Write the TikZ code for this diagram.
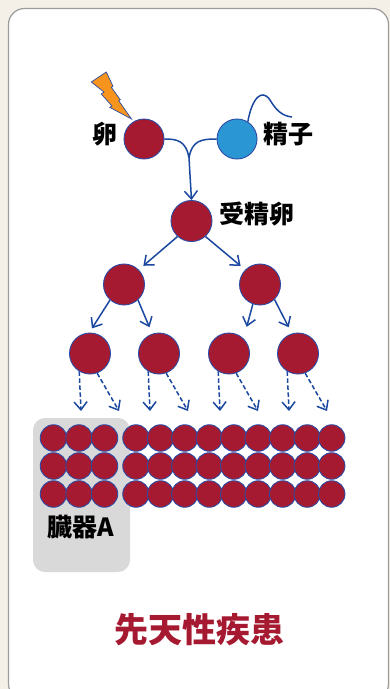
\documentclass[tikz,border=0pt]{standalone}
\usepackage{fontspec}
\newfontfamily\jp{Noto Sans CJK JP}
\usetikzlibrary{arrows.meta}
\definecolor{cellred}{HTML}{A51A30}
\definecolor{cellrim}{HTML}{2B4BA5}
\definecolor{spermblue}{HTML}{2A96D4}
\definecolor{arrowblue}{HTML}{1B48A0}
\definecolor{paper}{HTML}{F4F0E8}
\definecolor{cardrim}{HTML}{9C9C9C}
\definecolor{boltorange}{HTML}{F7941D}
\definecolor{boltrim}{HTML}{2B4BA5}
\tikzset{
  cell/.style={circle, fill=cellred, draw=cellrim, line width=0.9pt, minimum size=#1, inner sep=0pt},
  cell/.default=41pt,
  sperm/.style={circle, fill=spermblue, draw=cellrim, line width=0.9pt, minimum size=40pt, inner sep=0pt},
  label/.style={font=\jp\bfseries\fontsize{25}{25}\selectfont, text=black, inner sep=0pt},
  arr/.style={draw=arrowblue, line width=1.5pt, -{Straight Barb[length=8pt,width=13pt,line width=1.5pt]}},
  dasharr/.style={arr, dash pattern=on 4.5pt off 2.5pt},
  fuse/.style={draw=arrowblue, line width=1.5pt},
}
\begin{document}
\begin{tikzpicture}[x=1pt, y=-1pt]
  \useasboundingbox (0,0) rectangle (390,689);
  % page and card
  \fill[paper] (0,0) rectangle (390,689);
  \filldraw[fill=white, draw=cardrim, line width=1.2pt, rounded corners=16pt]
    (8.5,8.5) rectangle (388.5,700);

  % lightning bolt
  \filldraw[fill=boltorange, draw=boltrim, line width=0.7pt, line join=miter]
    (91.3,82) -- (106.3,72) -- (113,86.3) -- (111.3,87.3) -- (120.3,99.7)
    -- (118.7,100.7) -- (131.5,119) -- (109.7,107.3) -- (112,106)
    -- (101.3,94) -- (104,92) -- cycle;

  % egg and sperm
  \node[cell=40pt] (egg) at (144,139) {};
  \node[sperm] (sperm) at (237,139) {};
  \node[label] (tegg) at (105,134) {卵};
  \node[label] (tsperm) at (288,134) {精子};
  \draw[fuse] (sperm.58) .. controls (252,98) and (262,88) .. (270,100)
    .. controls (276,110) and (282,116) .. (292,117);

  % fertilization
  \coordinate (meet) at (189,158);
  \draw[fuse] (egg.east) .. controls (176,139) and (186,140) .. (meet);
  \draw[fuse] (sperm.west) .. controls (202,139) and (192,140) .. (meet);
  \node[cell] (zyg) at (191.5,221) {};
  \node[label] (tzyg) at (257,214) {受精卵};
  \draw[arr] (meet) -- (zyg.north);

  % first division
  \node[cell] (a) at (124,284.5) {};
  \node[cell] (b) at (260,284.5) {};
  \draw[arr, shorten >=6pt] (zyg.228) -- (a.45);
  \draw[arr, shorten >=6pt] (zyg.312) -- (b.135);

  % second division
  \node[cell] (c1) at (90,353.5) {};
  \node[cell] (c2) at (159,353.5) {};
  \node[cell] (c3) at (229,353.5) {};
  \node[cell] (c4) at (298,353.5) {};
  \draw[arr, shorten >=5pt] (a.228) -- (c1.92);
  \draw[arr, shorten >=7pt] (a.312) -- (c2.109);
  \draw[arr, shorten >=12pt] (b.250) -- (c3.46);
  \draw[arr, shorten >=7pt] (b.314) -- (c4.107);

  % further divisions
  \foreach \c/\x in {c1/90, c2/159, c3/229, c4/298} {
    \coordinate (\c l) at (\x-9,411);
    \coordinate (\c r) at (\x+29,411);
    \draw[dasharr] (\c.239) -- (\c l);
    \draw[dasharr] (\c.290) -- (\c r);
  }

  % organ A
  \fill[black!15, rounded corners=12pt] (33,418) rectangle (130,572);
  \foreach \y [count=\i] in {438,466,494} {
    \foreach \x [count=\j] in {53.5,79,104.5}
      \node[cell=26.5pt] (o\i\j) at (\x,\y) {};
    \foreach \x [count=\j] in {136,160.5,184.8,209.3,233.8,258.2,282.7,307.2,331.7}
      \node[cell=26.5pt] (t\i\j) at (\x,\y) {};
  }
  \node[label] (torgan) at (81,527) {臓器A};

  % caption
  \node[font=\jp\bfseries\fontsize{34}{34}\selectfont, text=cellred, inner sep=0pt]
    (title) at (199,630) {先天性疾患};
\end{tikzpicture}
\end{document}
